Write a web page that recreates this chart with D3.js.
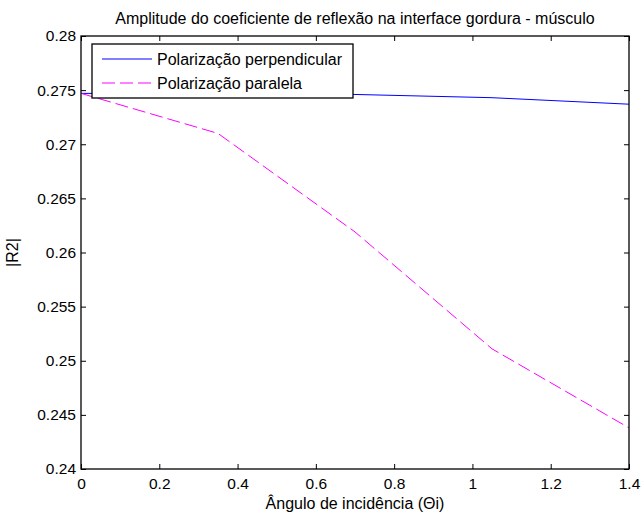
<!DOCTYPE html>
<html>
<head>
<meta charset="utf-8">
<script src="https://cdn.jsdelivr.net/npm/d3@7"></script>
<style>
  body { margin: 0; background: #fff; }
  text { font-family: "Liberation Sans", Arial, sans-serif; fill: #000; }
</style>
</head>
<body>
<script>
// angles (rad) and |R2| for both polarizations
var angles = [0, 0.35, 0.7, 1.05, 1.4];
var perpendicular = [0.2747, 0.27465, 0.2746, 0.2743, 0.2737];
var paralela = [0.2747, 0.2710, 0.2619, 0.2511, 0.2438];
var xTicks = [0, 0.2, 0.4, 0.6, 0.8, 1, 1.2, 1.4];
var yTicks = [0.24, 0.245, 0.25, 0.255, 0.26, 0.265, 0.27, 0.275, 0.28];
var seriesNames = ["Polarização perpendicular", "Polarização paralela"];

var W = 642, H = 520;
var margin = {top: 36, right: 13, bottom: 51, left: 81},
    width = W - margin.left - margin.right,
    height = H - margin.top - margin.bottom;

var svg = d3.select("body").append("svg")
    .attr("width", W)
    .attr("height", H);

var g = svg.append("g")
    .attr("transform", "translate(" + margin.left + "," + margin.top + ")");

var x = d3.scaleLinear().domain([0, 1.4]).range([0, width]);
var y = d3.scaleLinear().domain([0.24, 0.28]).range([height, 0]);

var fmtX = function(d) { return String(+d.toFixed(1)); };
var fmtY = function(d) { return String(+d.toFixed(3)); };

function styleAxis(a) {
  a.select(".domain").remove();
  a.selectAll(".tick line").attr("stroke", "#000");
  a.selectAll(".tick text").style("font-size", "15.5px");
}

// ticks inside, on all four sides
g.append("g")
    .attr("transform", "translate(0," + height + ")")
    .call(d3.axisBottom(x).tickValues(xTicks).tickFormat(fmtX).tickSizeInner(-5).tickPadding(9))
    .call(styleAxis);
g.append("g")
    .call(d3.axisTop(x).tickValues(xTicks).tickSizeInner(-5).tickFormat(""))
    .call(styleAxis);
g.append("g")
    .call(d3.axisLeft(y).tickValues(yTicks).tickFormat(fmtY).tickSizeInner(-5).tickPadding(5))
    .call(styleAxis);
g.append("g")
    .attr("transform", "translate(" + width + ",0)")
    .call(d3.axisRight(y).tickValues(yTicks).tickSizeInner(-5).tickFormat(""))
    .call(styleAxis);

var line = d3.line()
    .x(function(d) { return x(d[0]); })
    .y(function(d) { return y(d[1]); });

g.append("path")
    .datum(d3.zip(angles, perpendicular))
    .attr("fill", "none")
    .attr("stroke", "#0000ff")
    .attr("stroke-width", 1)
    .attr("d", line);

g.append("path")
    .datum(d3.zip(angles, paralela))
    .attr("fill", "none")
    .attr("stroke", "#ff00ff")
    .attr("stroke-width", 1)
    .attr("stroke-dasharray", "13,5")
    .attr("d", line);

// axes box
g.append("rect")
    .attr("width", width)
    .attr("height", height)
    .attr("fill", "none")
    .attr("stroke", "#000")
    .attr("stroke-width", 1.3);

// legend
var leg = g.append("g").attr("transform", "translate(11,8)");
leg.append("rect")
    .attr("width", 261)
    .attr("height", 54)
    .attr("fill", "#fff")
    .attr("stroke", "#000")
    .attr("stroke-width", 1.3);
var legColors = ["#0000ff", "#ff00ff"];
var legDash = [null, "13,5"];
seriesNames.forEach(function(name, i) {
  var yy = 15 + i * 24;
  leg.append("line")
      .attr("x1", 10).attr("x2", 60)
      .attr("y1", yy).attr("y2", yy)
      .attr("stroke", legColors[i])
      .attr("stroke-dasharray", legDash[i]);
  leg.append("text")
      .attr("x", 65)
      .attr("y", yy + 6)
      .style("font-size", "16px")
      .text(name);
});

// title and labels
svg.append("text")
    .attr("x", margin.left + width / 2)
    .attr("y", 24)
    .attr("text-anchor", "middle")
    .style("font-size", "16px")
    .text("Amplitude do coeficiente de reflexão na interface gordura - músculo");

svg.append("text")
    .attr("x", margin.left + width / 2)
    .attr("y", 509)
    .attr("text-anchor", "middle")
    .style("font-size", "16px")
    .text("Ângulo de incidência (Θi)");

svg.append("text")
    .attr("transform", "translate(18," + (margin.top + height / 2) + ") rotate(-90)")
    .attr("text-anchor", "middle")
    .style("font-size", "16px")
    .text("|R2|");
</script>
</body>
</html>
